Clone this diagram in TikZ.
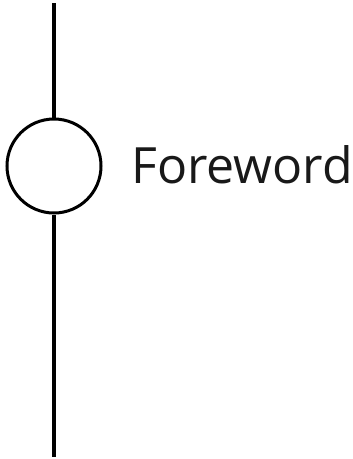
\documentclass[tikz,border=0pt]{standalone}
\usepackage{fontspec}
\setmainfont{Open Sans}
\begin{document}
\begin{tikzpicture}[x=1pt,y=-1pt,
  ring/.style={circle,draw,line width=3pt,minimum size=94pt,inner sep=0pt},
  stem/.style={line width=3.2pt},
  lbl/.style={anchor=base west,inner sep=0pt,font=\fontsize{50}{60}\selectfont,text=black!90}]
\useasboundingbox (0,0) rectangle (353,459);
\coordinate (top) at (54,3);
\coordinate (bot) at (54,457);
\node[ring] (c) at (54,166) {};
\node[lbl] (t) at (131,183) {Foreword};
\draw[stem] (top) -- (c.north);
\draw[stem] (c.south) -- (bot);
\end{tikzpicture}
\end{document}
